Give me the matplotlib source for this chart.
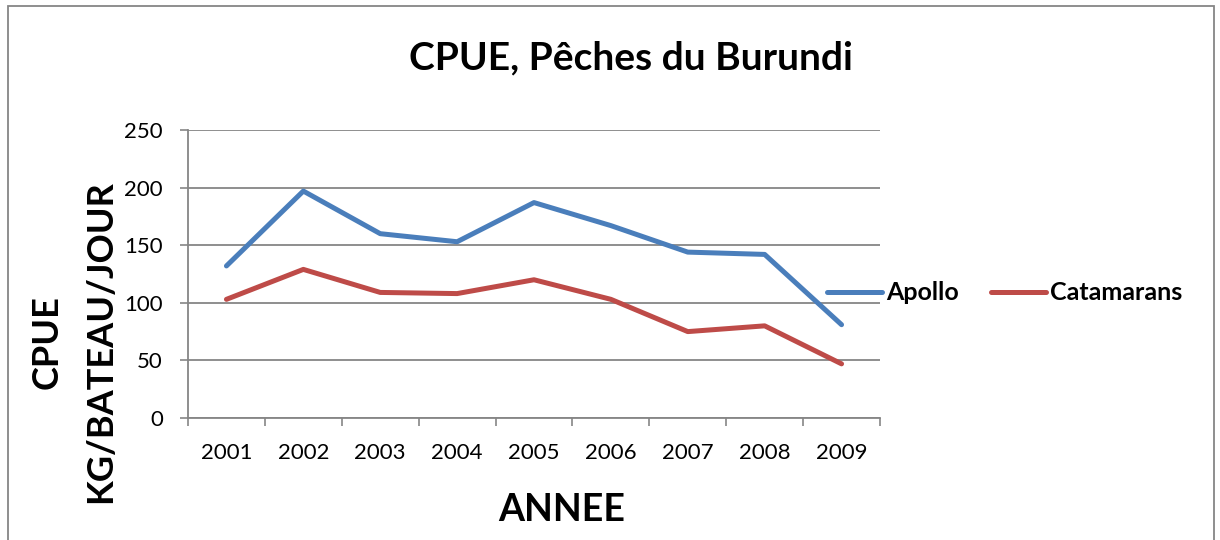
import matplotlib
matplotlib.use("Agg")
import matplotlib.pyplot as plt
from matplotlib.ticker import FixedLocator
import numpy as np

years = ["2001", "2002", "2003", "2004", "2005", "2006", "2007", "2008", "2009"]
apollo = [132, 197, 160, 153, 187, 167, 144, 142, 81]
catamarans = [103, 129, 109, 108, 120, 103, 75, 80, 47]
yticks = [0, 50, 100, 150, 200, 250]

plt.rcParams['font.family'] = ['Lato', 'DejaVu Sans']

fig = plt.figure(figsize=(12.2, 5.4), dpi=100)
ax = fig.add_axes([188/1220, 1-418/540, (880-188)/1220, (418-130)/540])

x = np.arange(len(years))
blue = '#4a7ebb'
red = '#be4b48'
l1, = ax.plot(x, apollo, color=blue, lw=3.6, solid_capstyle='round', solid_joinstyle='round', label='Apollo', zorder=3)
l2, = ax.plot(x, catamarans, color=red, lw=3.6, solid_capstyle='round', solid_joinstyle='round', label='Catamarans', zorder=3)

ax.set_xlim(-0.5, len(years) - 0.5)
ax.set_ylim(0, 250)
ax.set_yticks(yticks)
ax.set_yticklabels([str(v) for v in yticks], fontsize=16)
ax.set_xticks(x)
ax.set_xticklabels(years, fontsize=16)
ax.xaxis.set_minor_locator(FixedLocator(np.arange(-0.5, len(years), 1.0)))
ax.tick_params(axis='x', which='major', length=0, pad=18)
ax.tick_params(axis='x', which='minor', length=6, color='#868686', width=1.2)
ax.tick_params(axis='y', which='major', length=6, color='#868686', width=1.2, pad=12)

ax.grid(axis='y', color='#868686', lw=1.3)
ax.set_axisbelow(True)
for s in ['top', 'right']:
    ax.spines[s].set_visible(False)
for s in ['left', 'bottom']:
    ax.spines[s].set_color('#868686')
    ax.spines[s].set_linewidth(1.3)

fig.text(631/1220, 1-58/540, "CPUE, Pêches du Burundi", ha='center', va='center', fontsize=28, fontweight='bold')
fig.text(562/1220, 1-510/540, "ANNEE", ha='center', va='center', fontsize=27, fontweight='bold')
fig.text(47/1220, 1-342/540, "CPUE", ha='center', va='center', rotation=90, fontsize=26, fontweight='bold')
fig.text(101/1220, 1-342/540, "KG/BATEAU/JOUR", ha='center', va='center', rotation=90, fontsize=26, fontweight='bold')

fig.legend(handles=[l1, l2], loc='center left', bbox_to_anchor=(827/1220, 1-293/540), ncol=2, frameon=False,
           prop={'weight': 'bold', 'size': 18}, handlelength=2.2, handletextpad=0.15, columnspacing=1.3, borderaxespad=0, borderpad=0)

border = plt.Rectangle((8/1220, -0.05), (1214-8)/1220, (1-6/540)+0.05, transform=fig.transFigure, fill=False,
                       edgecolor='#868686', lw=1.3)
fig.add_artist(border)

fig.savefig("out.png", dpi=100)
